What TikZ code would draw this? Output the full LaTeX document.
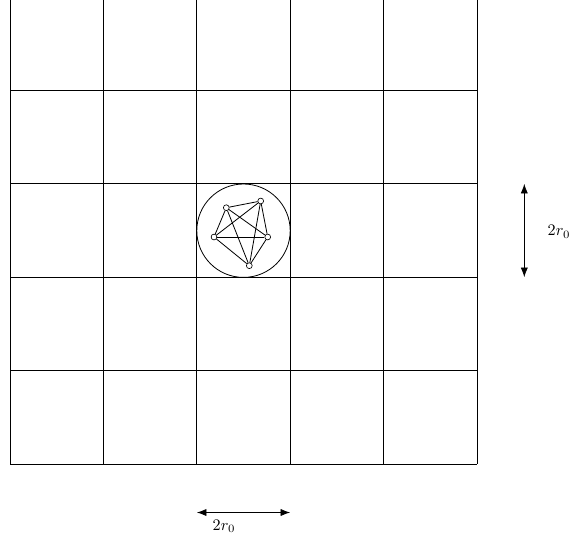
\documentclass[tikz,border=0pt]{standalone}
\usetikzlibrary{arrows.meta}
\begin{document}
\begin{tikzpicture}[x=0.62pt,y=-0.62pt,
  gridline/.style={line width=0.5pt},
  vert/.style={circle,draw,fill=white,inner sep=0pt,minimum size=3.6pt,line width=0.4pt},
  edge/.style={line width=0.5pt},
  dim/.style={line width=0.5pt,{Latex[length=6pt,width=4.5pt]}-{Latex[length=6pt,width=4.5pt]}}]
\clip (0,0) rectangle (573,544);
\useasboundingbox (0,0) rectangle (573,544);
% grid
\foreach \i in {0,...,5} {
  \draw[gridline] ({10+\i*93.4},-3) -- ({10+\i*93.4},464);
  \draw[gridline] (10,{464-\i*93.4}) -- (477,{464-\i*93.4});
}
% circle
\draw[line width=0.5pt] (243.5,230.7) circle [radius=46.7];
% vertices
\node[vert] (a) at (226.3,207.7) {};
\node[vert] (b) at (260.7,201) {};
\node[vert] (c) at (267.7,237) {};
\node[vert] (d) at (249.3,265.7) {};
\node[vert] (e) at (214,237) {};
\foreach \u/\v in {a/b,a/c,a/d,a/e,b/c,b/d,b/e,c/d,c/e,d/e}
  \draw[edge] (\u) -- (\v);
% dimension arrows
\coordinate (h1) at (196.8,512.5);
\coordinate (h2) at (290.2,512.5);
\draw[dim] (h1) -- (h2);
\node (hl) at (224,526.5) {$2r_0$};
\coordinate (v1) at (524.3,183.8);
\coordinate (v2) at (524.3,277.2);
\draw[dim] (v1) -- (v2);
\node (vl) at (559,232) {$2r_0$};
\end{tikzpicture}
\end{document}
